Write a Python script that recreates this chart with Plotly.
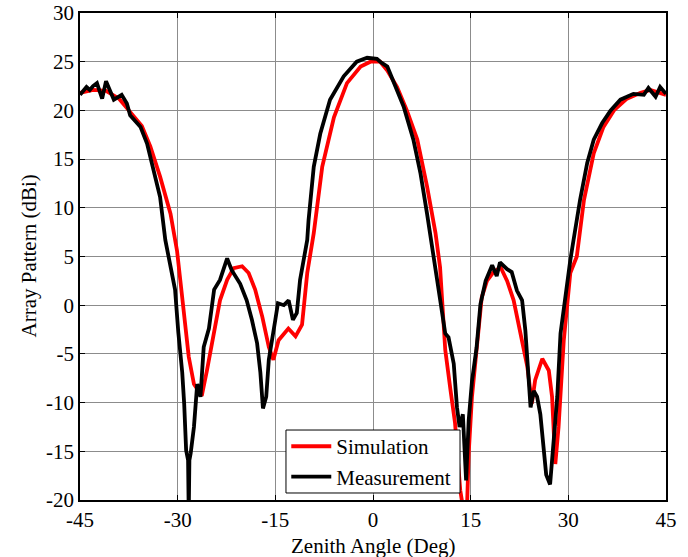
import plotly.graph_objects as go

# Simulation (red)
sim_x = [-45.0, -43.0, -41.0, -39.0, -37.5, -35.5, -34.2, -32.7, -31.1, -30.1, -29.6, -28.8, -28.3, -27.5,
         -26.3, -25.5, -24.5, -23.5, -22.4, -21.4, -20.1, -19.1, -18.1, -17.0, -16.0, -15.3, -14.5, -13.0,
         -11.9, -10.9, -10.1, -9.1, -7.8, -6.0, -4.0, -1.9, -0.4, 1.1, 2.2, 3.7, 5.2, 6.8, 8.3, 9.6, 10.3,
         11.1, 11.9, 12.6, 13.4, 14.0, 14.4, 14.7, 15.2, 16.0, 16.7, 17.5, 18.5, 19.6, 20.6, 21.6, 22.6,
         23.7, 24.4, 24.9, 26.0, 27.0, 27.5, 28.0, 28.5, 29.3, 30.3, 31.3, 32.4, 33.9, 35.4, 37.0, 39.0,
         41.1, 42.6, 45.0]
sim_y = [21.8, 22.1, 22.0, 21.2, 20.0, 18.4, 16.3, 13.2, 9.4, 5.6, 2.6, -1.9, -5.3, -8.1,
         -9.3, -6.7, -2.9, 0.5, 2.6, 3.8, 4.0, 3.3, 1.6, -1.2, -4.3, -5.6, -3.6, -2.4,
         -3.2, -2.0, 3.3, 7.4, 14.2, 19.3, 22.8, 24.5, 25.0, 25.0, 24.1, 22.4, 20.0, 17.0, 12.2, 7.4, 3.9,
         -4.6, -8.7, -12.1, -19.0, -21.5, -21.5, -15.2, -9.4, -3.6, 0.8, 2.5, 3.4, 3.9, 2.5, 0.5, -2.6,
         -6.3, -10.1, -7.7, -5.5, -6.7, -9.4, -16.3, -12.5, -3.6, 3.3, 5.0, 10.8, 15.6, 18.3, 20.0, 21.2,
         21.8, 22.1, 21.6]

# Measurement (black)
mea_x = [-45.0, -44.5, -44.0, -43.5, -43.0, -42.4, -41.6, -41.0, -40.4, -39.8, -38.6, -37.8, -37.3, -35.7,
         -34.7, -33.7, -32.7, -31.9, -30.9, -30.4, -29.9, -29.3, -29.0, -28.7, -28.4, -28.3, -28.2, -28.0,
         -27.5, -27.0, -26.5, -26.0, -25.2, -24.4, -23.5, -22.4, -21.7, -20.4, -19.4, -18.6, -17.8, -17.3,
         -16.9, -16.4, -16.0, -15.5, -15.0, -14.6, -13.7, -12.95, -12.3, -11.7, -11.2, -10.1, -9.9, -9.1,
         -8.1, -6.6, -4.5, -2.5, -0.9, 0.6, 1.1, 2.2, 3.2, 4.7, 6.2, 7.3, 8.3, 9.1, 10.1, 11.1, 11.6,
         12.4, 12.9, 13.3, 13.8, 14.3, 14.7, 15.2, 15.9, 16.5, 17.3, 18.3, 19.0, 19.5, 20.6, 21.3, 22.1,
         22.9, 23.4, 24.2, 24.7, 25.2, 25.7, 26.1, 26.6, 27.2, 27.8, 28.3, 28.8, 29.5, 30.3, 30.8, 31.8,
         32.9, 33.9, 35.2, 36.5, 38.0, 40.0, 41.6, 42.3, 43.4, 44.1, 45.0]
mea_y = [21.6, 22.0, 22.4, 22.1, 22.5, 22.8, 21.2, 23.0, 22.0, 21.1, 21.6, 20.7, 19.5, 18.3,
         16.6, 13.9, 11.1, 6.7, 3.3, 1.6, -2.8, -6.9, -10.1, -14.9, -15.9, -21.5, -15.9, -15.2,
         -12.5, -8.1, -9.4, -4.3, -2.4, 1.6, 2.6, 4.8, 3.6, 2.2, 0.5, -1.5, -3.9, -6.9,
         -10.6, -9.4, -5.6, -3.2, -1.5, 0.2, 0.0, 0.5, -1.5, -0.8, 2.6, 6.7, 8.7, 14.2,
         17.6, 21.1, 23.5, 25.0, 25.4, 25.3, 25.0, 24.5, 22.8, 20.4, 17.0, 13.5, 9.4, 6.0, 1.5, -2.9, -3.3,
         -6.0, -10.5, -12.5, -11.2, -18.0, -11.8, -7.8, -4.4, 0.1, 2.5, 4.1, 3.0, 4.4, 3.7, 3.4, 1.5,
         0.5, -2.6, -10.5, -8.8, -9.4, -11.2, -13.6, -17.4, -18.4, -13.2, -9.4, -2.9, 0.8, 4.6, 6.7, 10.8,
         14.6, 17.0, 18.7, 20.0, 21.1, 21.7, 21.6, 22.3, 21.4, 22.4, 21.7]

x_ticks = [-45, -30, -15, 0, 15, 30, 45]
y_ticks = [-20, -15, -10, -5, 0, 5, 10, 15, 20, 25, 30]

FONT = "'Times New Roman', 'Liberation Serif', 'DejaVu Serif', serif"
FS = 21

fig = go.Figure()
fig.add_trace(go.Scatter(x=sim_x, y=sim_y, mode="lines", name="Simulation",
                         line=dict(color="#ff0000", width=3.8)))
fig.add_trace(go.Scatter(x=mea_x, y=mea_y, mode="lines", name="Measurement",
                         line=dict(color="#000000", width=3.8)))

axis_common = dict(showline=True, linecolor="black", linewidth=1.5, mirror="allticks",
                   ticks="inside", ticklen=5, tickcolor="black", tickwidth=1,
                   showgrid=True, gridcolor="#8c8c8c", gridwidth=1, zeroline=False,
                   automargin=False,
                   tickfont=dict(family=FONT, size=FS, color="black"))

fig.update_xaxes(range=[-45, 45], tickvals=x_ticks, ticktext=[str(v) for v in x_ticks], **axis_common)
fig.update_yaxes(range=[-20, 30], tickvals=y_ticks, ticktext=[str(v) for v in y_ticks], **axis_common)

# Axis titles
fig.add_annotation(text="Zenith Angle (Deg)", xref="paper", yref="paper", x=0.5, y=-0.0945,
                   xanchor="center", yanchor="middle", showarrow=False,
                   font=dict(family=FONT, size=FS, color="black"))
fig.add_annotation(text="Array Pattern (dBi)", xref="paper", yref="paper", x=-0.0887, y=0.5,
                   xanchor="center", yanchor="middle", showarrow=False, textangle=-90,
                   font=dict(family=FONT, size=FS, color="black"))

# Legend box
fig.add_shape(type="rect", xref="paper", yref="paper", x0=0.3515, x1=0.6485, y0=0.0144, y1=0.1437,
              fillcolor="white", line=dict(color="black", width=1), layer="above")

fig.update_layout(
    width=688, height=557,
    margin=dict(l=80, r=22, t=13, b=57),
    paper_bgcolor="white", plot_bgcolor="white",
    font=dict(family=FONT, size=FS, color="black"),
    legend=dict(x=0.352, y=0.006, xanchor="left", yanchor="bottom",
                bgcolor="rgba(0,0,0,0)", borderwidth=0,
                font=dict(family=FONT, size=FS, color="black"),
                tracegroupgap=0, itemwidth=40),
    showlegend=True,
)

fig.write_html("out.html")
